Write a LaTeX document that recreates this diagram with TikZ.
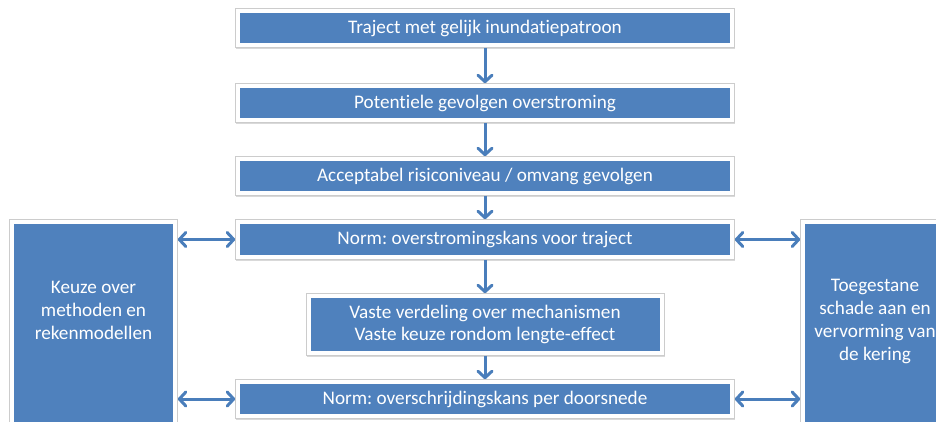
\documentclass[tikz,border=0pt]{standalone}
\usepackage{fontspec}
\setmainfont{Carlito}[Ligatures=NoCommon]
\frenchspacing
\usetikzlibrary{arrows.meta,shadows}
\definecolor{boxblue}{HTML}{4F81BD}
\definecolor{arrowblue}{HTML}{4A7EBB}
\definecolor{framegray}{HTML}{CCCCCC}
\tikzset{
  frame/.style={rectangle, fill=white, draw=framegray, line width=0.6pt, inner sep=0pt,
    drop shadow={shadow xshift=0.8pt, shadow yshift=-1.6pt, opacity=0.3},
    path picture={\fill[boxblue] ([shift={(4.5pt,4.5pt)}]path picture bounding box.south west)
      rectangle ([shift={(-4.5pt,-4.5pt)}]path picture bounding box.north east);}},
  stepbox/.style={frame, text=white, font=\fontsize{19.2}{22}\selectfont\frenchspacing, align=center},
  sidetext/.style={text=white, font=\fontsize{19.2}{23}\selectfont, align=center, inner sep=0pt},
  flow/.style={draw=arrowblue, line width=3pt, -{Straight Barb[length=6.5pt,width=14pt,round]}},
  both/.style={draw=arrowblue, line width=3pt, {Straight Barb[length=6.5pt,width=14pt,round]}-{Straight Barb[length=6.5pt,width=14pt,round]}}
}
\begin{document}
\begin{tikzpicture}[x=1pt,y=-1pt]
\useasboundingbox (0,0) rectangle (936,421);
% side boxes
\node[frame, minimum width=168pt, minimum height=240pt] (left) at (93.5,339.5) {};
\node[frame, minimum width=150pt, minimum height=240pt] (right) at (875.5,339.5) {};
\node[sidetext] (lefttext) at (93.5,310) {Keuze over\\methoden en\\rekenmodellen};
\node[sidetext] (righttext) at (875,321) {Toegestane\\schade aan en\\vervorming van\\de kering};
% main column
\node[stepbox, minimum width=499pt, minimum height=39pt] (b1) at (485,28) {Traject met gelijk inundatiepatroon};
\node[stepbox, minimum width=499pt, minimum height=39pt] (b2) at (485,103) {Potentiele gevolgen overstroming};
\node[stepbox, minimum width=499pt, minimum height=39pt] (b3) at (485,176) {Acceptabel risiconiveau / omvang gevolgen};
\node[stepbox, minimum width=499pt, minimum height=40pt] (b4) at (485,239.5) {Norm: overstromingskans voor traject};
\node[stepbox, minimum width=358pt, minimum height=62pt] (b5) at (485,324.5) {Vaste verdeling over mechanismen\\Vaste keuze rondom lengte-effect};
\node[stepbox, minimum width=499pt, minimum height=39pt] (b6) at (485,399) {Norm: overschrijdingskans per doorsnede};
% vertical arrows
\draw[flow] (b1) -- (b2);
\draw[flow] (b2) -- (b3);
\draw[flow] (b3) -- (b4);
\draw[flow] (b4) -- (b5);
\draw[flow] (b5) -- (b6);
% horizontal double arrows
\draw[both] (b4.west -| left.east) -- (b4.west);
\draw[both] (b6.west -| left.east) -- (b6.west);
\draw[both] (b4.east) -- (b4.east -| right.west);
\draw[both] (b6.east) -- (b6.east -| right.west);
\end{tikzpicture}
\end{document}
